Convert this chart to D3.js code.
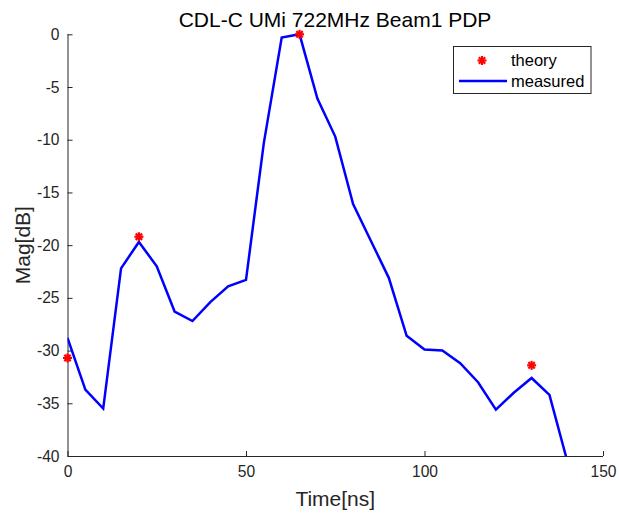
<!DOCTYPE html>
<html><head><meta charset="utf-8">
<script src="https://cdn.jsdelivr.net/npm/d3@7"></script>
<style>body{margin:0;background:#fff}svg{display:block;font-family:"Liberation Sans",Arial,sans-serif}</style>
</head><body><svg id="c" width="619" height="515"></svg>
<script>
const timeNs = [0,5,10,15,20,25,30,35,40,45,50,55,60,65,70,75,80,85,90,95,100,105,110,115,120,125,130,135,140];
const measured = [-28.8,-33.7,-35.5,-22.2,-19.7,-22.0,-26.3,-27.2,-25.4,-23.9,-23.3,-10.3,-0.3,0,-6.1,-9.7,-16.1,-19.6,-23.1,-28.6,-29.9,-30.0,-31.2,-33.0,-35.6,-34.0,-32.6,-34.2,-40.5];
const theoryT = [0,20,65,130];
const theoryV = [-30.7,-19.2,0,-31.4];
const xTicks = [0,50,100,150];
const yTicks = [0,-5,-10,-15,-20,-25,-30,-35,-40];

const svg = d3.select("#c");
const L=67.5, R=603, T=34.3, B=456;
const x = d3.scaleLinear().domain([0,150]).range([L,R]);
const y = d3.scaleLinear().domain([-40,0]).range([B,T]);

svg.append("defs").append("clipPath").attr("id","clip").append("rect")
  .attr("x",L).attr("y",T-6).attr("width",R-L).attr("height",B-T+6);

const fmt = d => String(d);
const xa = svg.append("g").attr("transform",`translate(0,${B})`)
  .call(d3.axisBottom(x).tickValues(xTicks).tickFormat(fmt).tickSizeInner(-5).tickSizeOuter(0).tickPadding(10));
const ya = svg.append("g").attr("transform",`translate(${L},0)`)
  .call(d3.axisLeft(y).tickValues(yTicks).tickFormat(fmt).tickSizeInner(-5).tickSizeOuter(0).tickPadding(8));
[xa,ya].forEach(a=>{
  a.selectAll("path,line").attr("stroke","#262626").attr("stroke-width",1);
  a.selectAll("text").attr("fill","#262626").style("font-size","15.6px").style("font-family","'Liberation Sans',Arial,sans-serif");
});
xa.select(".domain").attr("d",`M${L},0.5H${R}`);
ya.select(".domain").attr("d",`M0.5,${T}V${B}`);

const g = svg.append("g").attr("clip-path","url(#clip)");
g.append("path").datum(timeNs.map((t,i)=>[t,measured[i]]))
  .attr("fill","none").attr("stroke","#0000ff").attr("stroke-width",2.5).attr("stroke-linejoin","miter")
  .attr("d",d3.line().x(d=>x(d[0])).y(d=>y(d[1])));

function star(sel,cx,cy,r){
  const gg = sel.append("g").attr("transform",`translate(${cx},${cy})`).attr("stroke","#ff0000").attr("stroke-width",2.2);
  for(let k=0;k<4;k++){
    const a=k*Math.PI/4;
    gg.append("line").attr("x1",-r*Math.cos(a)).attr("y1",-r*Math.sin(a)).attr("x2",r*Math.cos(a)).attr("y2",r*Math.sin(a));
  }
}
theoryT.forEach((t,i)=>star(svg,x(t),y(theoryV[i]),4.5));

svg.append("text").attr("x",335).attr("y",27).attr("text-anchor","middle")
  .style("font-size","21px").attr("fill","#000").text("CDL-C UMi 722MHz Beam1 PDP");
svg.append("text").attr("x",(L+R)/2).attr("y",506).attr("text-anchor","middle")
  .style("font-size","21px").attr("fill","#262626").text("Time[ns]");
svg.append("text").attr("transform",`translate(30,${(T+B)/2}) rotate(-90)`).attr("text-anchor","middle")
  .style("font-size","21px").attr("fill","#262626").text("Mag[dB]");

// legend
const lg = svg.append("g");
lg.append("rect").attr("x",453.5).attr("y",46.5).attr("width",137.5).attr("height",47)
  .attr("fill","#fff").attr("stroke","#262626").attr("stroke-width",1);
star(lg,482,60.5,4.5);
lg.append("line").attr("x1",459).attr("x2",507).attr("y1",81).attr("y2",81).attr("stroke","#0000ff").attr("stroke-width",2.5);
lg.append("text").attr("x",511).attr("y",66).style("font-size","16.5px").text("theory");
lg.append("text").attr("x",511).attr("y",86.5).style("font-size","16.5px").text("measured");
</script></body></html>
